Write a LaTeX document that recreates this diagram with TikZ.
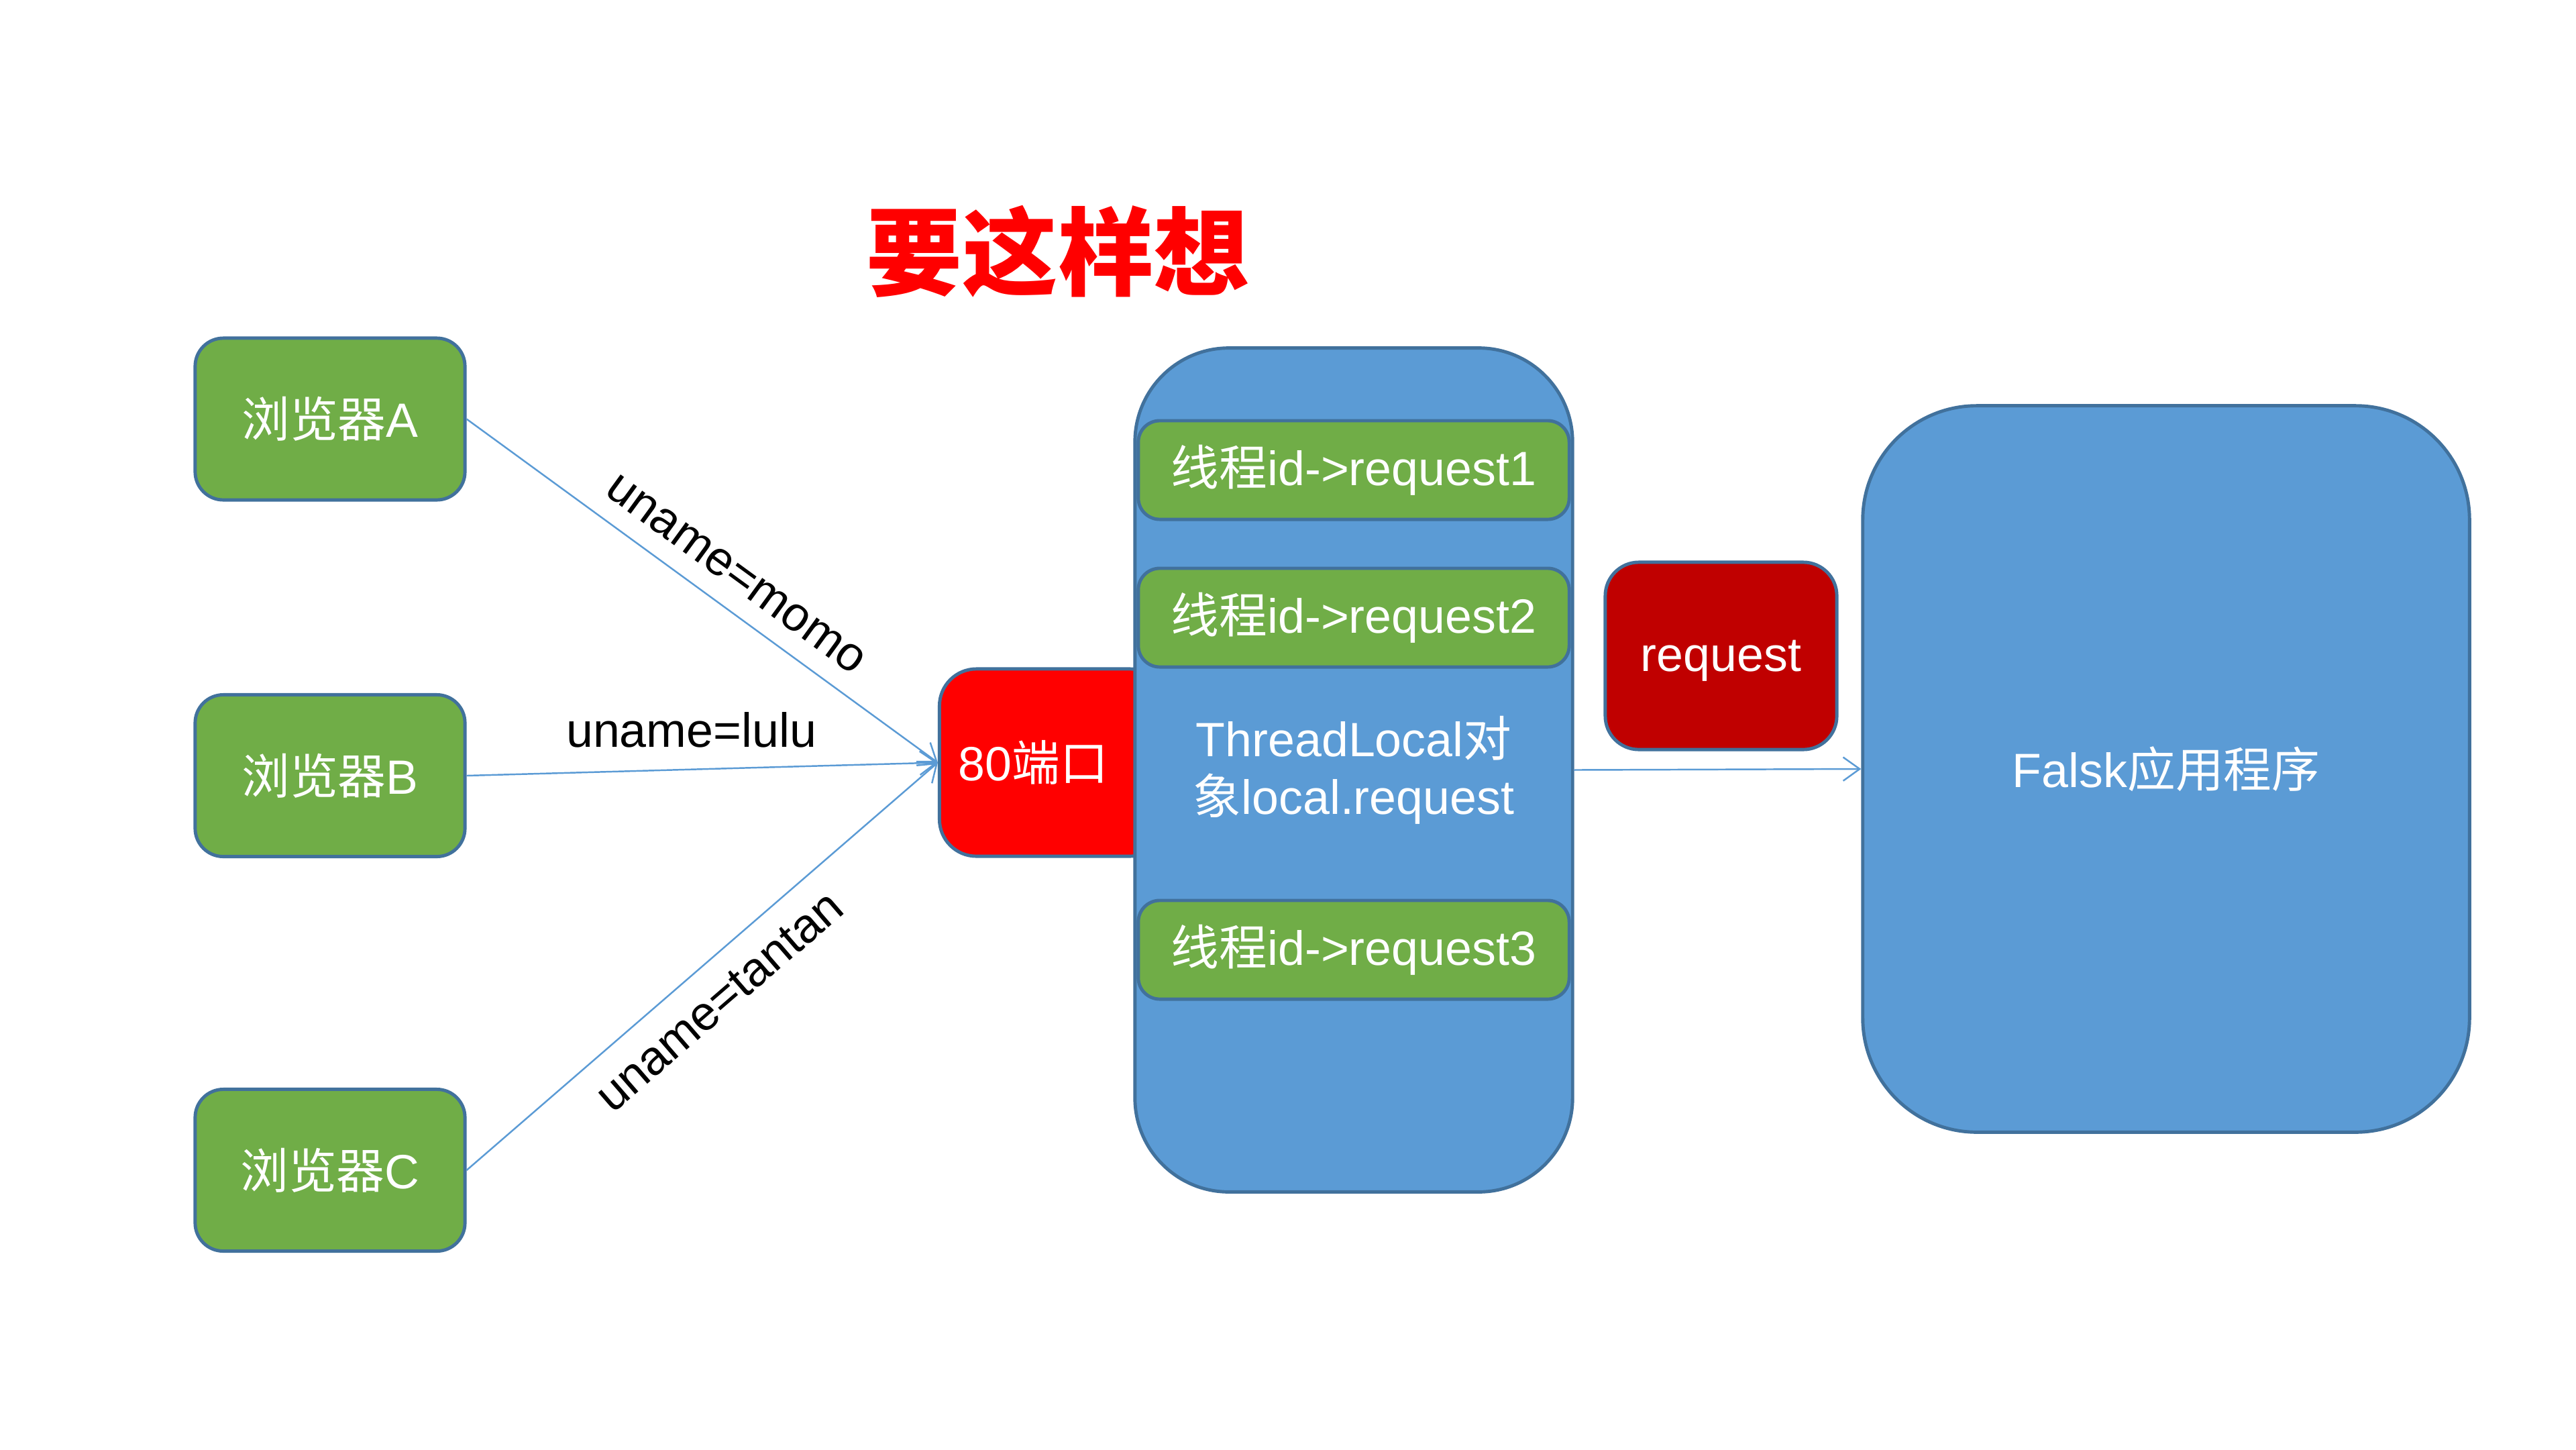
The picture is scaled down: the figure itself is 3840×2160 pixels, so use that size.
\documentclass[tikz,border=0pt]{standalone}
\usepackage{fontspec}
\setmainfont{Liberation Sans}
\newfontfamily\cjk{Noto Sans CJK SC}
\usetikzlibrary{arrows.meta}
\definecolor{cgreen}{HTML}{70AD47}
\definecolor{cblue}{HTML}{5B9BD5}
\definecolor{cborder}{HTML}{41719C}
\definecolor{cred}{HTML}{FF0000}
\definecolor{cdred}{HTML}{C00000}
\newcommand\myfs{\fontsize{20.4}{24.5}\selectfont}
\tikzset{
  box/.style={draw=cborder, line width=1.4pt, text=white, font=\myfs, inner sep=0pt, align=center},
  browser/.style={box, fill=cgreen, rounded corners=0.42cm, minimum width=4.02cm, minimum height=2.41cm},
  thread/.style={box, fill=cgreen, rounded corners=0.32cm, minimum width=6.42cm, minimum height=1.47cm},
  conn/.style={draw=cblue, line width=0.7pt, -{Straight Barb[length=7pt,width=10pt]}},
  lbl/.style={font=\myfs, text=black, inner sep=8pt}
}
\begin{document}
\begin{tikzpicture}[x=0.01cm,y=-0.01cm]
\useasboundingbox[fill=white] (0,0) rectangle (3840,2160);

% title
\node (title) at (1577,375) {\cjk\bfseries\color{cred}\fontsize{40.6}{48}\selectfont 要这样想};

% browsers
\node[browser] (A) at (492,624.5) {{\cjk 浏览器}A};
\node[browser] (B) at (492,1156) {{\cjk 浏览器}B};
\node[browser] (C) at (492,1744) {{\cjk 浏览器}C};

% port
\node[box, fill=cred, rounded corners=0.55cm, minimum width=3.39cm, minimum height=2.79cm] (port) at (1570,1136.5) {\hspace*{-17pt}80{\cjk 端口}};

% threadlocal container
\node[box, fill=cblue, rounded corners=1.4cm, minimum width=6.52cm, minimum height=12.57cm] (tl) at (2018,1147.5) {ThreadLocal{\cjk 对}\\{\cjk 象}local.request};

\node[thread] (t1) at (2018,700.5) {{\cjk 线程}id->request1};
\node[thread] (t2) at (2018,920.5) {{\cjk 线程}id->request2};
\node[thread] (t3) at (2018,1415.5) {{\cjk 线程}id->request3};

% request
\node[box, fill=cdred, rounded corners=0.5cm, minimum width=3.45cm, minimum height=2.79cm, text depth=0pt] (req) at (2565.5,977.5) {request};

% flask app
\node[box, fill=cblue, rounded corners=1.7cm, minimum width=9.04cm, minimum height=10.82cm] (app) at (3229,1146) {Falsk{\cjk 应用程序}};

% connectors
\draw[conn] (A.east) -- node[lbl, sloped, above, pos=0.53] {uname=momo} (port.west);
\draw[conn] (B.east) -- node[lbl, above, pos=0.477, inner sep=9pt] {uname=lulu} (port.west);
\draw[conn] (C.east) -- node[lbl, sloped, below, pos=0.484, inner sep=9pt] {uname=tantan} (port.west);
\draw[conn] (tl.east) -- (app.west);
\end{tikzpicture}
\end{document}
